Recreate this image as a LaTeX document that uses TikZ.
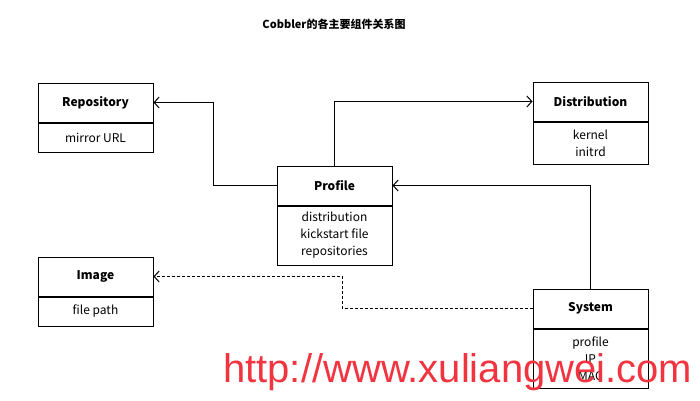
\documentclass[tikz,border=0pt]{standalone}
\usepackage{fontspec}
\setmainfont{Noto Sans CJK SC}
\newfontfamily\urlfont{Liberation Sans}
\usepackage{tikz}
\usetikzlibrary{positioning}
\usetikzlibrary{arrows.meta}
\definecolor{markred}{RGB}{242,52,64}
\tikzset{classtitle/.style={draw, line width=1pt, minimum width=115pt, minimum height=39pt, inner sep=0pt, font=\fontsize{12}{17}\selectfont\bfseries}}
\tikzset{classbody/.style={draw, line width=1pt, minimum width=115pt, inner sep=0pt, align=center, font=\fontsize{12}{17}\selectfont}}
\tikzset{assoc/.style={line width=1pt, -{Straight Barb[length=5pt, width=11pt]}}}

\begin{document}
\begin{tikzpicture}[x=1pt, y=-1pt]
    \useasboundingbox (0,0) rectangle (700,400);
    \node[font=\fontsize{11}{12}\selectfont\bfseries] (caption) at (334,24) {Cobbler的各主要组件关系图};

    \node[classtitle] (repo) at (95.5,102.5) {Repository};
    \node[classbody, minimum height=29pt, below=0pt of repo] (repoattr) {mirror URL};

    \node[classtitle] (profile) at (334.5,185.5) {Profile};
    \node[classbody, minimum height=59pt, below=0pt of profile] (profileattr)
        {distribution\\kickstart file\\repositories};

    \node[classtitle] (dist) at (590.5,101.5) {Distribution};
    \node[classbody, minimum height=42pt, below=0pt of dist] (distattr) {kernel\\initrd};

    \node[classtitle] (image) at (95.5,276.5) {Image};
    \node[classbody, minimum height=29pt, below=0pt of image] (imageattr) {file path};

    \node[classtitle] (system) at (590.5,308.5) {System};
    \node[classbody, minimum height=59pt, below=0pt of system] (systemattr) {profile\\IP\\MAC};

    \draw[assoc] (profile.west) -- ++(-63,0) |- (repo.east);
    \draw[assoc] (profile.north) |- (dist.west);
    \draw[assoc] (system.north) |- (profile.east);
    \draw[assoc, dash pattern=on 3pt off 2pt] (system.west) -- ++(-190,0) |- (image.east);

    \node[anchor=base west, inner sep=0pt, text=markred, font=\urlfont\fontsize{40}{41}\selectfont]
        (mark) at (223,382) {http://www.xuliangwei.com};
    % \draw[help lines] (0,0) grid[step=50] (700,400);
\end{tikzpicture}
\end{document}
